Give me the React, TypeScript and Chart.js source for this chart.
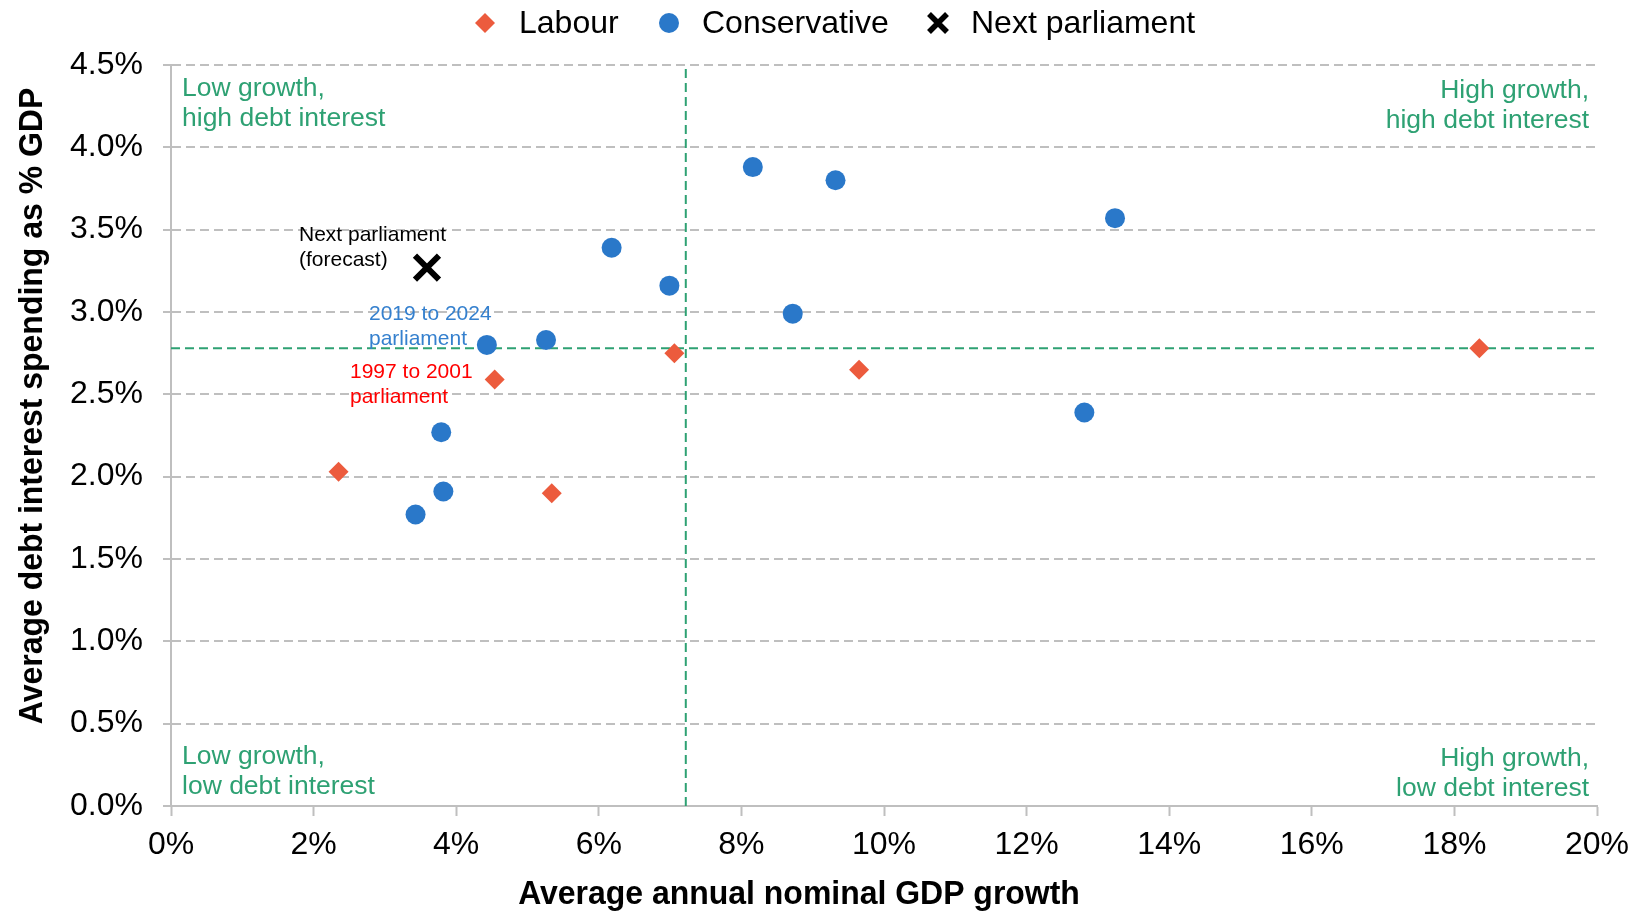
import React, { useEffect, useRef } from 'react';
import { Chart, registerables } from 'chart.js';

Chart.register(...registerables);

// ---- Data ----
const labourGrowth = [2.35, 4.54, 5.34, 7.06, 9.65, 18.35];
const labourInterest = [2.03, 2.59, 1.9, 2.75, 2.65, 2.78];

const conservativeGrowth = [3.43, 3.82, 3.79, 4.43, 5.26, 6.18, 6.99, 8.16, 8.72, 9.32, 13.24, 12.81];
const conservativeInterest = [1.77, 1.91, 2.27, 2.8, 2.83, 3.39, 3.16, 3.88, 2.99, 3.8, 3.57, 2.39];

const nextGrowth = [3.59];
const nextInterest = [3.27];

const averageGrowth = 7.22;
const averageInterest = 2.78;

const xMin = 0;
const xMax = 20;
const xStep = 2;
const yMin = 0;
const yMax = 4.5;
const yStep = 0.5;

const legendLabels = ['Labour', 'Conservative', 'Next parliament'];
const quadrantLabels = [
  ['Low growth,', 'high debt interest'],
  ['High growth,', 'high debt interest'],
  ['Low growth,', 'low debt interest'],
  ['High growth,', 'low debt interest'],
];
const nextNote = ['Next parliament', '(forecast)'];
const note2019 = ['2019 to 2024', 'parliament'];
const note1997 = ['1997 to 2001', 'parliament'];
const xTitle = 'Average annual nominal GDP growth';
const yTitle = 'Average debt interest spending as % GDP';

// ---- Styles ----
const LABOUR = '#EC5B3D';
const CONS = '#2A78C9';
const GREEN = '#2EA173';
const GRID = '#BFBFBF';
const FONT = "'Liberation Sans', Arial, sans-serif";

const pts = (xs: number[], ys: number[]) => xs.map((x, i) => ({ x, y: ys[i] }));

const overlayPlugin = {
  id: 'overlay',
  afterDraw(chart: any) {
    const ctx: CanvasRenderingContext2D = chart.ctx;
    const a = chart.chartArea;
    ctx.save();

    // Quadrant labels
    ctx.fillStyle = GREEN;
    ctx.font = `26.5px ${FONT}`;
    ctx.textBaseline = 'middle';
    ctx.textAlign = 'left';
    ctx.fillText(quadrantLabels[0][0], a.left + 11, a.top + 24);
    ctx.fillText(quadrantLabels[0][1], a.left + 11, a.top + 54);
    ctx.fillText(quadrantLabels[2][0], a.left + 11, a.bottom - 49);
    ctx.fillText(quadrantLabels[2][1], a.left + 11, a.bottom - 19);
    ctx.textAlign = 'right';
    ctx.fillText(quadrantLabels[1][0], a.right - 8, a.top + 26);
    ctx.fillText(quadrantLabels[1][1], a.right - 8, a.top + 56);
    ctx.fillText(quadrantLabels[3][0], a.right - 8, a.bottom - 47);
    ctx.fillText(quadrantLabels[3][1], a.right - 8, a.bottom - 17);

    // Notes
    ctx.textAlign = 'left';
    ctx.font = `21px ${FONT}`;
    ctx.fillStyle = '#000';
    ctx.fillText(nextNote[0], 299, 235);
    ctx.fillText(nextNote[1], 299, 260);
    ctx.fillStyle = '#3580CE';
    ctx.fillText(note2019[0], 369, 314);
    ctx.fillText(note2019[1], 369, 339);
    ctx.fillStyle = '#FF0000';
    ctx.fillText(note1997[0], 350, 372);
    ctx.fillText(note1997[1], 350, 397);

    // Legend
    const ly = 23;
    ctx.fillStyle = LABOUR;
    ctx.beginPath();
    ctx.moveTo(485, ly - 10);
    ctx.lineTo(495, ly);
    ctx.lineTo(485, ly + 10);
    ctx.lineTo(475, ly);
    ctx.closePath();
    ctx.fill();
    ctx.fillStyle = CONS;
    ctx.beginPath();
    ctx.arc(669, ly, 10, 0, Math.PI * 2);
    ctx.fill();
    ctx.strokeStyle = '#000';
    ctx.lineWidth = 5.5;
    ctx.beginPath();
    ctx.moveTo(929, ly - 9);
    ctx.lineTo(947, ly + 9);
    ctx.moveTo(947, ly - 9);
    ctx.lineTo(929, ly + 9);
    ctx.stroke();
    ctx.fillStyle = '#000';
    ctx.font = `32px ${FONT}`;
    ctx.fillText(legendLabels[0], 519, ly + 1);
    ctx.fillText(legendLabels[1], 702, ly + 1);
    ctx.fillText(legendLabels[2], 971, ly + 1);

    // Axis titles (condensed bold)
    ctx.font = `bold 34px ${FONT}`;
    ctx.textAlign = 'center';
    ctx.save();
    ctx.translate(799, 895);
    ctx.scale(0.94, 1);
    ctx.fillText(xTitle, 0, 0);
    ctx.restore();
    ctx.save();
    ctx.translate(33, 406);
    ctx.rotate(-Math.PI / 2);
    ctx.scale(0.94, 1);
    ctx.fillText(yTitle, 0, 0);
    ctx.restore();

    ctx.restore();
  },
};

export default function App() {
  const ref = useRef<HTMLCanvasElement | null>(null);

  useEffect(() => {
    document.body.style.margin = '0';
    const canvas = ref.current;
    if (!canvas) return;
    const chart = new Chart(canvas, {
      type: 'scatter',
      data: {
        datasets: [
          {
            label: legendLabels[0],
            data: pts(labourGrowth, labourInterest),
            pointStyle: 'rectRot',
            pointRadius: 10,
            backgroundColor: LABOUR,
            borderColor: LABOUR,
            borderWidth: 0,
          },
          {
            label: legendLabels[1],
            data: pts(conservativeGrowth, conservativeInterest),
            pointStyle: 'circle',
            pointRadius: 10,
            backgroundColor: CONS,
            borderColor: CONS,
            borderWidth: 0,
          },
          {
            label: legendLabels[2],
            data: pts(nextGrowth, nextInterest),
            pointStyle: 'crossRot',
            pointRadius: 17,
            backgroundColor: '#000',
            borderColor: '#000',
            borderWidth: 6,
          },
          {
            label: 'avgInterest',
            data: [
              { x: xMin, y: averageInterest },
              { x: xMax, y: averageInterest },
            ],
            showLine: true,
            pointRadius: 0,
            borderColor: GREEN,
            borderWidth: 2,
            borderDash: [9, 5],
          },
          {
            label: 'avgGrowth',
            data: [
              { x: averageGrowth, y: yMin },
              { x: averageGrowth, y: yMax },
            ],
            showLine: true,
            pointRadius: 0,
            borderColor: GREEN,
            borderWidth: 2,
            borderDash: [9, 5],
          },
        ],
      } as any,
      options: {
        animation: false,
        responsive: false,
        layout: { padding: { top: 65, right: 45, left: 0, bottom: 0 } },
        plugins: {
          legend: { display: false },
          tooltip: { enabled: false },
        },
        scales: {
          x: {
            type: 'linear',
            min: xMin,
            max: xMax,
            afterFit: (s: any) => {
              s.height = 108;
            },
            ticks: {
              stepSize: xStep,
              callback: (v: any) => `${v}%`,
              font: { family: FONT, size: 32 },
              color: '#000',
              padding: 10,
              maxRotation: 0,
              autoSkip: false,
            },
            grid: {
              drawOnChartArea: false,
              drawTicks: true,
              tickLength: 10,
              tickColor: GRID,
              tickWidth: 2,
            },
            border: { color: GRID, width: 2 },
          },
          y: {
            type: 'linear',
            min: yMin,
            max: yMax,
            afterFit: (s: any) => {
              s.width = 171;
            },
            ticks: {
              stepSize: yStep,
              callback: (v: any) => `${Number(v).toFixed(1)}%`,
              font: { family: FONT, size: 32 },
              color: '#000',
              padding: 20,
              autoSkip: false,
            },
            grid: {
              color: GRID,
              lineWidth: 2,
              tickLength: 8,
              tickColor: GRID,
              tickWidth: 2,
              tickBorderDash: [],
            },
            border: { color: GRID, width: 2, dash: [9, 5] },
          },
        },
      } as any,
      plugins: [overlayPlugin],
    });
    return () => chart.destroy();
  }, []);

  return <canvas ref={ref} width={1642} height={914} style={{ display: 'block' }} />;
}
